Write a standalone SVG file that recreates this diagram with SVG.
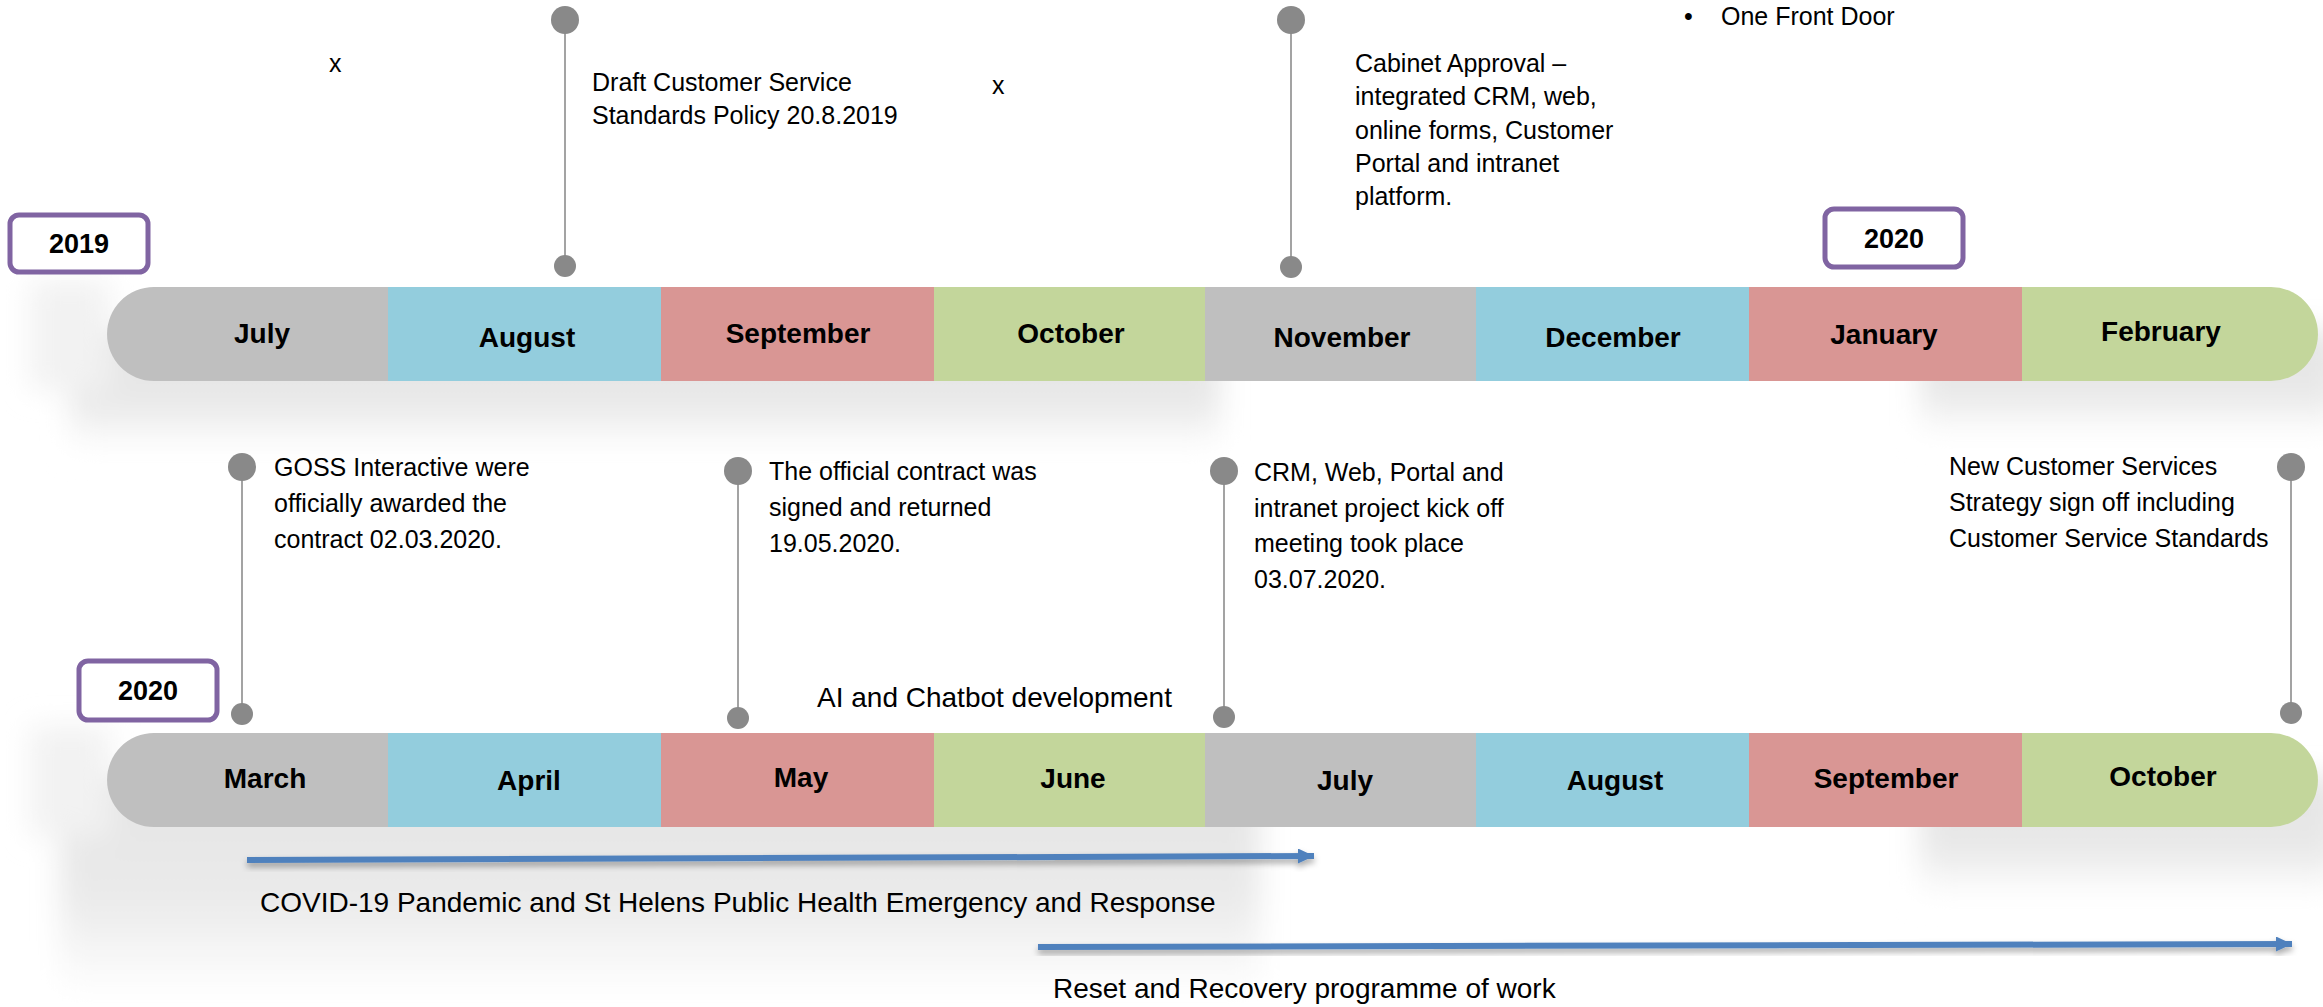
<svg xmlns="http://www.w3.org/2000/svg" width="2323" height="1007" viewBox="0 0 2323 1007">
<style>
.t{font-family:"Liberation Sans",Arial,sans-serif;font-size:25px;fill:#000}
.tl{font-family:"Liberation Sans",Arial,sans-serif;font-size:28px;fill:#000}
.m{font-family:"Liberation Sans",Arial,sans-serif;font-size:28px;font-weight:bold;fill:#000;text-anchor:middle}
.y{font-family:"Liberation Sans",Arial,sans-serif;font-size:27px;font-weight:bold;fill:#000;text-anchor:middle}
.gray{fill:#BFBFBF}.blue{fill:#93CDDD}.red{fill:#D99694}.green{fill:#C3D69B}
.box{fill:#FFFFFF;stroke:#8064A2;stroke-width:5}
.stem{stroke:#A3A3A3;stroke-width:2;fill:none}
.dot{fill:#898989}
.arr{stroke:#4F81BD;stroke-width:6;fill:none;marker-end:url(#head)}
</style>
<defs>
<filter id="blur" x="-10%" y="-20%" width="120%" height="140%"><feGaussianBlur stdDeviation="14"/></filter>
<filter id="ds" x="-5%" y="-300%" width="110%" height="700%"><feDropShadow dx="0" dy="4" stdDeviation="3" flood-color="#000" flood-opacity="0.35"/></filter>
<linearGradient id="shg" x1="0" y1="0" x2="0" y2="1"><stop offset="0" stop-color="#E4E4E4"/><stop offset="0.55" stop-color="#EAEAEA"/><stop offset="1" stop-color="#FFFFFF"/></linearGradient>
<linearGradient id="shg2" x1="0" y1="0" x2="0" y2="1"><stop offset="0" stop-color="#E4E4E4"/><stop offset="0.6" stop-color="#E8E8E8"/><stop offset="1" stop-color="#FFFFFF"/></linearGradient>
<marker id="head" markerUnits="userSpaceOnUse" markerWidth="18" markerHeight="16" refX="16" refY="7.5" orient="auto"><path d="M0,0 L16,7.5 L0,15 Z" fill="#4F81BD"/></marker>
</defs>
<rect width="2323" height="1007" fill="#FFFFFF"/>
<g id="shadows" filter="url(#blur)">
<rect x="70" y="330" width="1150" height="120" fill="url(#shg2)"/>
<rect x="1920" y="330" width="420" height="105" fill="url(#shg2)"/>
<rect x="60" y="776" width="1200" height="220" fill="url(#shg)"/>
<rect x="1920" y="776" width="420" height="120" fill="url(#shg2)"/>
<rect x="30" y="280" width="80" height="110" fill="#F2F2F2"/>
<rect x="30" y="726" width="80" height="110" fill="#F2F2F2"/>
</g>
<g id="top-bar">
<g id="m-jul-2019"><path class="gray" d="M388 287 L154 287 A47 47 0 0 0 154 381 L388 381 Z"/><text class="m" x="262" y="343">July</text></g>
<g id="m-aug-2019"><rect class="blue" x="388" y="287" width="273" height="94"/><text class="m" x="527" y="347">August</text></g>
<g id="m-sep-2019"><rect class="red" x="661" y="287" width="273" height="94"/><text class="m" x="798" y="343">September</text></g>
<g id="m-oct-2019"><rect class="green" x="934" y="287" width="271" height="94"/><text class="m" x="1071" y="343">October</text></g>
<g id="m-nov-2019"><rect class="gray" x="1205" y="287" width="271" height="94"/><text class="m" x="1342" y="347">November</text></g>
<g id="m-dec-2019"><rect class="blue" x="1476" y="287" width="273" height="94"/><text class="m" x="1613" y="347">December</text></g>
<g id="m-jan-2020"><rect class="red" x="1749" y="287" width="273" height="94"/><text class="m" x="1884" y="344">January</text></g>
<g id="m-feb-2020"><path class="green" d="M2022 287 L2271 287 A47 47 0 0 1 2271 381 L2022 381 Z"/><text class="m" x="2161" y="341">February</text></g>
</g>
<g id="bottom-bar">
<g id="m-mar-2020"><path class="gray" d="M388 733 L154 733 A47 47 0 0 0 154 827 L388 827 Z"/><text class="m" x="265" y="788">March</text></g>
<g id="m-apr-2020"><rect class="blue" x="388" y="733" width="273" height="94"/><text class="m" x="529" y="790">April</text></g>
<g id="m-may-2020"><rect class="red" x="661" y="733" width="273" height="94"/><text class="m" x="801" y="787">May</text></g>
<g id="m-jun-2020"><rect class="green" x="934" y="733" width="271" height="94"/><text class="m" x="1073" y="788">June</text></g>
<g id="m-jul-2020"><rect class="gray" x="1205" y="733" width="271" height="94"/><text class="m" x="1345" y="790">July</text></g>
<g id="m-aug-2020"><rect class="blue" x="1476" y="733" width="273" height="94"/><text class="m" x="1615" y="790">August</text></g>
<g id="m-sep-2020"><rect class="red" x="1749" y="733" width="273" height="94"/><text class="m" x="1886" y="788">September</text></g>
<g id="m-oct-2020"><path class="green" d="M2022 733 L2271 733 A47 47 0 0 1 2271 827 L2022 827 Z"/><text class="m" x="2163" y="786">October</text></g>
</g>
<g id="year-2019"><rect class="box" x="10" y="215" width="138" height="57" rx="9"/><text class="y" x="79" y="253">2019</text></g>
<g id="year-2020-top"><rect class="box" x="1825" y="209" width="138" height="58" rx="9"/><text class="y" x="1894" y="248">2020</text></g>
<g id="year-2020-bottom"><rect class="box" x="79" y="661" width="138" height="59" rx="9"/><text class="y" x="148" y="700">2020</text></g>
<g id="connectors">
<g id="pin-aug-2019"><line class="stem" x1="565" y1="20" x2="565" y2="266"/><circle class="dot" cx="565" cy="20" r="14"/><circle class="dot" cx="565" cy="266" r="11"/></g>
<g id="pin-nov-2019"><line class="stem" x1="1291" y1="20" x2="1291" y2="267"/><circle class="dot" cx="1291" cy="20" r="14"/><circle class="dot" cx="1291" cy="267" r="11"/></g>
<g id="pin-mar-2020"><line class="stem" x1="242" y1="467" x2="242" y2="714"/><circle class="dot" cx="242" cy="467" r="14"/><circle class="dot" cx="242" cy="714" r="11"/></g>
<g id="pin-may-2020"><line class="stem" x1="738" y1="471" x2="738" y2="718"/><circle class="dot" cx="738" cy="471" r="14"/><circle class="dot" cx="738" cy="718" r="11"/></g>
<g id="pin-jul-2020"><line class="stem" x1="1224" y1="471" x2="1224" y2="717"/><circle class="dot" cx="1224" cy="471" r="14"/><circle class="dot" cx="1224" cy="717" r="11"/></g>
<g id="pin-oct-2020"><line class="stem" x1="2291" y1="467" x2="2291" y2="713"/><circle class="dot" cx="2291" cy="467" r="14"/><circle class="dot" cx="2291" cy="713" r="11"/></g>
<path id="arrow-covid" class="arr" filter="url(#ds)" d="M247 860 L1314 856"/>
<path id="arrow-reset" class="arr" filter="url(#ds)" d="M1038 947 L2292 944"/>
</g>
<g id="note-x1"><text class="t" x="329" y="72">x</text></g>
<g id="note-x2"><text class="t" x="992" y="94">x</text></g>
<g id="note-draft"><text class="t" x="592" y="91">Draft Customer Service</text><text class="t" x="592" y="124">Standards Policy 20.8.2019</text></g>
<g id="note-cabinet"><text class="t" x="1355" y="72">Cabinet Approval –</text><text class="t" x="1355" y="105">integrated CRM, web,</text><text class="t" x="1355" y="139">online forms, Customer</text><text class="t" x="1355" y="172">Portal and intranet</text><text class="t" x="1355" y="205">platform.</text></g>
<g id="note-front-door"><text class="t" x="1684" y="25">•</text><text class="t" x="1721" y="25">One Front Door</text></g>
<g id="note-goss"><text class="t" x="274" y="476">GOSS Interactive were</text><text class="t" x="274" y="512">officially awarded the</text><text class="t" x="274" y="548">contract 02.03.2020.</text></g>
<g id="note-contract"><text class="t" x="769" y="480">The official contract was</text><text class="t" x="769" y="516">signed and returned</text><text class="t" x="769" y="552">19.05.2020.</text></g>
<g id="note-kickoff"><text class="t" x="1254" y="481">CRM, Web, Portal and</text><text class="t" x="1254" y="517">intranet project kick off</text><text class="t" x="1254" y="552">meeting took place</text><text class="t" x="1254" y="588">03.07.2020.</text></g>
<g id="note-strategy"><text class="t" x="1949" y="475">New Customer Services</text><text class="t" x="1949" y="511">Strategy sign off including</text><text class="t" x="1949" y="547">Customer Service Standards</text></g>
<g id="note-ai"><text class="tl" x="817" y="707">AI and Chatbot development</text></g>
<g id="note-covid"><text class="tl" x="260" y="912">COVID-19 Pandemic and St Helens Public Health Emergency and Response</text></g>
<g id="note-reset"><text class="tl" x="1053" y="998">Reset and Recovery programme of work</text></g>
</svg>
